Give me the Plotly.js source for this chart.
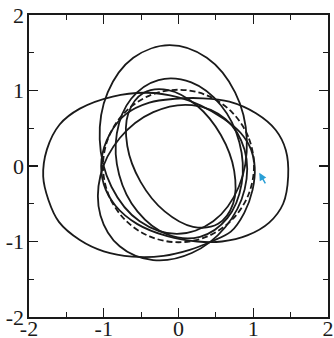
<!DOCTYPE html>
<html>
<head>
<meta charset="utf-8">
<script src="https://cdn.plot.ly/plotly-3.0.1.min.js"></script>
<style>
  html, body { margin: 0; padding: 0; background: #ffffff; }
  #chart { width: 334px; height: 338px; }
</style>
</head>
<body>
<div id="chart"></div>
<script>
// Reference (dashed) circle
const circleX = [1.01, 0.933, 0.714, 0.387, 0, -0.387, -0.714, -0.933, -1.01, -0.933, -0.714, -0.387, 0, 0.387, 0.714, 0.933, 1.01];
const circleY = [0, 0.387, 0.714, 0.933, 1.01, 0.933, 0.714, 0.387, 0, -0.387, -0.714, -0.933, -1.01, -0.933, -0.714, -0.387, 0];

// Loop A: wide loop extending left
const loopAX = [1.02, 0.97, 0.83, 0.6, 0.3, 0.0, -0.43, -0.88, -1.32, -1.59, -1.76, -1.81, -1.74, -1.6, -1.32, -1.0, -0.62, -0.2, 0.15, 0.44, 0.70, 0.88, 0.99, 1.02];
const loopAY = [-0.02, 0.22, 0.44, 0.63, 0.8, 0.91, 0.97, 0.92, 0.76, 0.55, 0.22, -0.14, -0.45, -0.74, -0.98, -1.13, -1.2, -1.19, -1.11, -1.0, -0.87, -0.62, -0.32, -0.02];

// Loop B: wide loop extending right
const loopBX = [1.467, 1.436, 1.30, 1.036, 0.68, 0.324, -0.05, -0.39, -0.70, -0.92, -1.03, -1.0, -0.84, -0.55, -0.15, 0.25, 0.58, 0.92, 1.213, 1.40, 1.467];
const loopBY = [-0.14, 0.21, 0.477, 0.698, 0.852, 0.897, 0.89, 0.84, 0.69, 0.42, 0.08, -0.24, -0.53, -0.77, -0.93, -1.0, -1.0, -0.92, -0.75, -0.50, -0.14];

// Loop C: tall loop extending up
const loopCX = [0.914, 0.757, 0.379, -0.12, -0.605, -0.947, -1.054, -0.897, -0.519, -0.02, 0.465, 0.807, 0.914];
const loopCY = [0.35, 0.975, 1.433, 1.60, 1.433, 0.975, 0.35, -0.275, -0.733, -0.90, -0.733, -0.275, 0.35];

// Loop D: tilted loop extending down
const loopDX = [0.627, 0.180, -0.337, -0.785, -1.045, -1.044, -0.787, -0.34, 0.177, 0.625, 0.885, 0.884, 0.627];
const loopDY = [0.623, 0.806, 0.713, 0.371, -0.13, -0.654, -1.063, -1.246, -1.153, -0.811, -0.31, 0.214, 0.623];

// Loop E: inner tilted loop (larger)
const loopEX = [-0.268, -0.633, -0.825, -0.794, -0.547, -0.151, 0.288, 0.653, 0.845, 0.814, 0.567, 0.171, -0.268];
const loopEY = [1.138, 0.891, 0.433, -0.115, -0.605, -0.906, -0.938, -0.691, -0.233, 0.315, 0.805, 1.1065, 1.138];

// Loop F: inner tilted loop (smaller)
const loopFX = [-0.47, -0.672, -0.685, -0.507, -0.185, 0.195, 0.53, 0.732, 0.745, 0.567, 0.245, -0.135, -0.47];
const loopFY = [0.966, 0.695, 0.265, -0.21, -0.601, -0.805, -0.766, -0.495, -0.065, 0.41, 0.801, 1.005, 0.966];

// Arrow target (start point marker)
const arrowX = 1.08;
const arrowY = -0.09;

// Axis ticks
const tickVals = [-2, -1, 0, 1, 2];
const tickText = ['-2', '-1', '0', '1', '2'];

const solid = {color: '#1a1a1a', width: 1.8, shape: 'spline', smoothing: 1};
function loop(x, y) {
  return {x: x, y: y, type: 'scatter', mode: 'lines', line: solid, hoverinfo: 'skip', showlegend: false};
}

const data = [
  loop(loopAX, loopAY),
  loop(loopBX, loopBY),
  loop(loopCX, loopCY),
  loop(loopDX, loopDY),
  loop(loopEX, loopEY),
  loop(loopFX, loopFY),
  {x: circleX, y: circleY, type: 'scatter', mode: 'lines', hoverinfo: 'skip', showlegend: false,
   line: {color: '#1a1a1a', width: 1.8, dash: '6px,3px', shape: 'spline', smoothing: 1}}
];

const axisCommon = {
  range: [-2, 2],
  tickvals: tickVals,
  ticktext: tickText,
  ticks: 'inside',
  ticklen: 9,
  tickwidth: 1.4,
  tickcolor: '#1a1a1a',
  showline: true,
  linecolor: '#1a1a1a',
  linewidth: 1.6,
  mirror: 'allticks',
  showgrid: false,
  zeroline: false,
  minor: {dtick: 0.5, tick0: 0, ticks: 'inside', ticklen: 5, tickwidth: 1.2, tickcolor: '#1a1a1a', showgrid: false},
  tickfont: {family: 'Liberation Serif', size: 22, color: '#1a1a1a'}
};

const layout = {
  width: 334,
  height: 338,
  margin: {l: 29, r: 6, t: 15, b: 21},
  paper_bgcolor: '#ffffff',
  plot_bgcolor: '#ffffff',
  xaxis: Object.assign({}, axisCommon, {ticklabelstandoff: -9}),
  yaxis: Object.assign({}, axisCommon, {ticklabelstandoff: -1}),
  annotations: [{
    x: arrowX, y: arrowY, xref: 'x', yref: 'y',
    ax: 7, ay: 12, axref: 'pixel', ayref: 'pixel',
    showarrow: true, arrowhead: 2, arrowsize: 1, arrowwidth: 1.5,
    arrowcolor: '#2a9fd6', text: ''
  }]
};

Plotly.newPlot('chart', data, layout, {staticPlot: true, displayModeBar: false});
</script>
</body>
</html>
